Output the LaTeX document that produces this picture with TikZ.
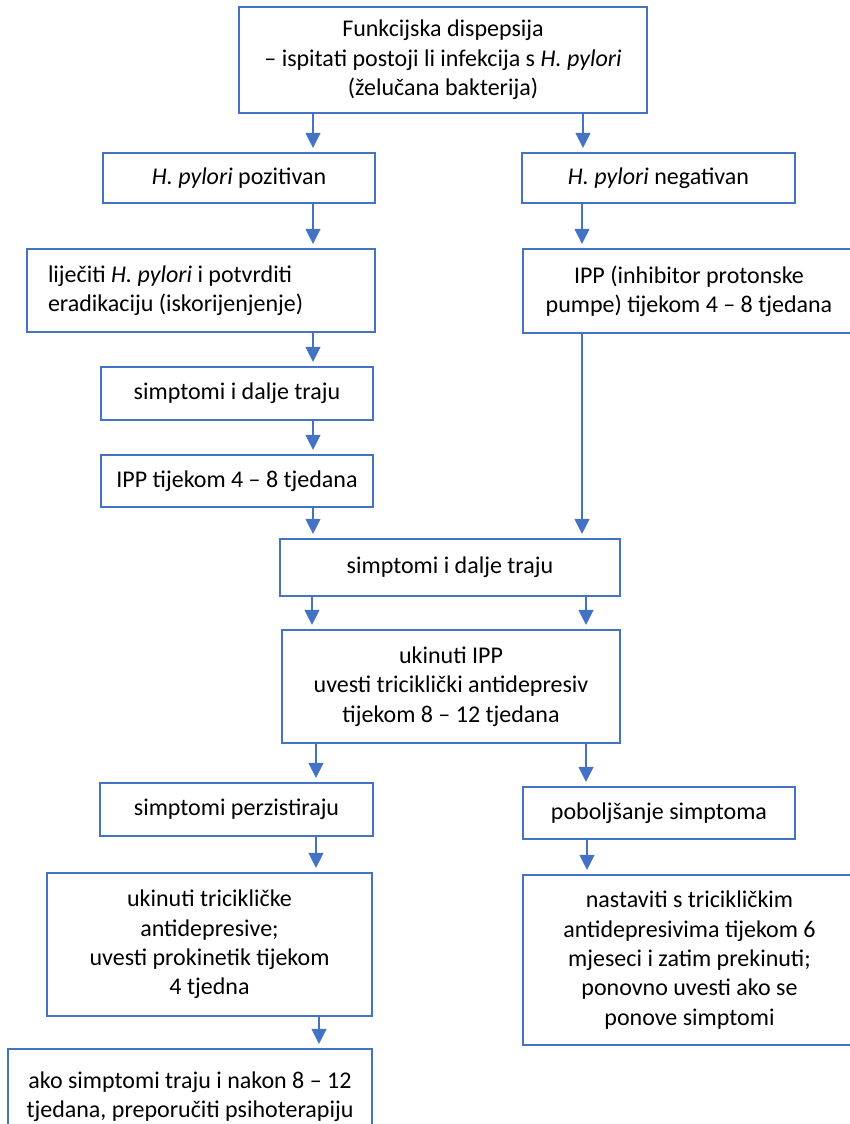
\documentclass[tikz,border=0pt]{standalone}
\usepackage{fontspec}
\setmainfont{Carlito}
\usetikzlibrary{arrows.meta}
\definecolor{bl}{HTML}{4472C4}
\begin{document}
\begin{tikzpicture}[x=1pt,y=-1pt,
  box/.style={draw=bl,line width=2.2pt,fill=white,inner sep=0pt,align=center,
    font=\fontsize{24}{29.3}\selectfont,text=black},
  arr/.style={draw=bl,line width=1.3pt,-{Triangle[width=15pt,length=15pt]},shorten >=4pt}]
\useasboundingbox (0,0) rectangle (849,1124);
\node[box,minimum width=408pt,minimum height=106pt] (top) at (443,60)
  {Funkcijska dispepsija\\– ispitati postoji li infekcija s \textit{H. pylori}\\(želučana bakterija)};
\node[box,minimum width=272pt,minimum height=50pt] (pos) at (239,178) {\textit{H. pylori} pozitivan};
\node[box,minimum width=273pt,minimum height=50pt] (neg) at (658.5,178) {\textit{H. pylori} negativan};
\node[box,minimum width=348pt,minimum height=83pt,text width=306pt,align=flush left,inner xsep=21pt] (treat) at (201,290.5)
  {liječiti \textit{H. pylori} i potvrditi\\eradikaciju (iskorijenjenje)};
\node[box,minimum width=332pt,minimum height=84pt] (ipp1) at (689,291)
  {IPP (inhibitor protonske\\pumpe) tijekom 4 – 8 tjedana};
\node[box,minimum width=272pt,minimum height=53pt] (sim1) at (237,393.5) {simptomi i dalje traju};
\node[box,minimum width=272pt,minimum height=52pt] (ipp2) at (237,481) {IPP tijekom 4 – 8 tjedana};
\node[box,minimum width=340pt,minimum height=57pt] (simc) at (450,567.5) {simptomi i dalje traju};
\node[box,minimum width=338pt,minimum height=113pt] (uk) at (451,686.5)
  {ukinuti IPP\\uvesti triciklički antidepresiv\\tijekom 8 – 12 tjedana};
\node[box,minimum width=273pt,minimum height=53pt] (pers) at (236.5,809.5) {simptomi perzistiraju};
\node[box,minimum width=272pt,minimum height=52pt] (pob) at (659,813) {poboljšanje simptoma};
\node[box,minimum width=325pt,minimum height=143pt] (tric) at (209.5,944.5)
  {ukinuti tricikličke\\antidepresive;\\uvesti prokinetik tijekom\\4 tjedna};
\node[box,minimum width=333pt,minimum height=170pt] (nast) at (689.5,960)
  {nastaviti s tricikličkim\\antidepresivima tijekom 6\\mjeseci i zatim prekinuti;\\ponovno uvesti ako se\\ponove simptomi};
\node[box,minimum width=364pt,minimum height=96pt] (last) at (190,1097)
  {ako simptomi traju i nakon 8 – 12\\tjedana, preporučiti psihoterapiju};
\coordinate (xa) at (313,0);
\coordinate (xb) at (583,0);
\coordinate (xc) at (582,0);
\coordinate (xd) at (312,0);
\coordinate (xe) at (586,0);
\coordinate (xf) at (316,0);
\coordinate (xg) at (319,0);
\coordinate (xh) at (587,0);
\draw[arr] (top.south -| xa) -- (pos.north -| xa);
\draw[arr] (top.south -| xb) -- (neg.north -| xb);
\draw[arr] (pos.south -| xa) -- (treat.north -| xa);
\draw[arr] (neg.south -| xc) -- (ipp1.north -| xc);
\draw[arr] (treat.south -| xa) -- (sim1.north -| xa);
\draw[arr] (sim1.south -| xa) -- (ipp2.north -| xa);
\draw[arr] (ipp2.south -| xa) -- (simc.north -| xa);
\draw[arr] (ipp1.south -| xc) -- (simc.north -| xc);
\draw[arr] (simc.south -| xd) -- (uk.north -| xd);
\draw[arr] (simc.south -| xe) -- (uk.north -| xe);
\draw[arr] (uk.south -| xf) -- (pers.north -| xf);
\draw[arr] (uk.south -| xe) -- (pob.north -| xe);
\draw[arr] (pers.south -| xf) -- (tric.north -| xf);
\draw[arr] (tric.south -| xg) -- (last.north -| xg);
\draw[arr] (pob.south -| xh) -- (nast.north -| xh);
\end{tikzpicture}
\end{document}
